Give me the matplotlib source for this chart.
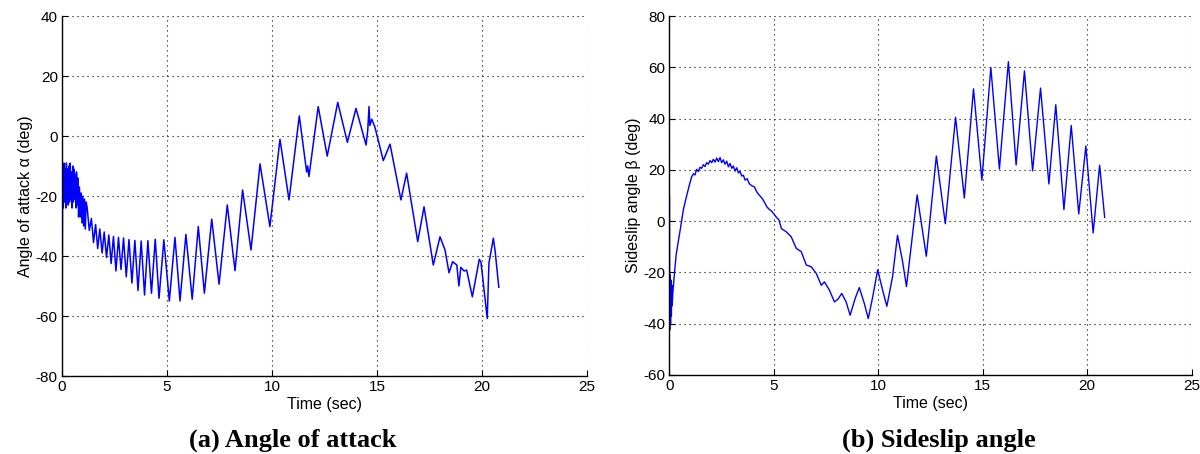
import matplotlib
matplotlib.use("Agg")
import matplotlib.pyplot as plt

# ---- Angle of attack alpha (deg) vs time (s): turning points of the trace ----
alpha_t = [0.00, 0.01, 0.03, 0.06, 0.09, 0.12, 0.15, 0.18, 0.21, 0.24, 0.27, 0.30,
           0.33, 0.36, 0.39, 0.42, 0.45, 0.48, 0.51, 0.54, 0.57, 0.60, 0.63, 0.66,
           0.69, 0.72, 0.75, 0.79, 0.83, 0.87, 0.91, 0.95, 0.99, 1.03, 1.07, 1.11,
           1.15, 1.20, 1.30, 1.40, 1.50, 1.60, 1.70, 1.80, 1.91, 2.01, 2.12, 2.23,
           2.34, 2.45, 2.57, 2.69, 2.81, 2.93, 3.06, 3.19, 3.33, 3.47, 3.62, 3.77,
           3.93, 4.09, 4.26, 4.44, 4.62, 4.85, 5.11, 5.38, 5.62, 5.90, 6.20, 6.49,
           6.78, 7.13, 7.48, 7.87, 8.24, 8.60, 9.00, 9.43, 9.90, 10.38, 10.81, 11.30,
           11.65, 11.70, 11.76, 12.20, 12.63, 13.13, 13.59, 14.00, 14.48, 14.56, 14.62,
           14.66, 14.75, 14.90, 15.30, 15.62, 16.14, 16.41, 16.94, 17.24, 17.68, 18.00,
           18.24, 18.43, 18.60, 18.80, 18.90, 18.99, 19.15, 19.27, 19.54, 19.87, 19.95,
           20.25, 20.33, 20.54, 20.62, 20.80]
alpha_v = [21.0, -54.0, -12.0, -24.0, -9.0, -22.0, -11.0, -24.0, -9.0, -21.0, -11.0, -23.0,
           -10.0, -22.0, -9.0, -21.0, -12.0, -24.0, -10.0, -22.0, -11.0, -21.0, -13.0, -24.0,
           -12.0, -23.0, -14.0, -27.0, -17.0, -27.0, -19.0, -29.0, -20.0, -30.0, -21.0, -31.0,
           -22.0, -24.0, -31.5, -27.5, -35.5, -29.5, -37.5, -31.0, -39.0, -32.0, -40.5, -33.0,
           -42.5, -33.5, -45.0, -33.8, -44.5, -34.0, -46.9, -34.5, -49.0, -34.8, -51.5, -35.0,
           -53.0, -34.9, -52.4, -34.4, -54.1, -34.6, -55.0, -33.8, -55.0, -32.8, -54.4, -30.2,
           -52.4, -27.7, -49.4, -23.0, -44.9, -18.0, -38.0, -9.3, -30.2, -1.1, -21.3, 6.7,
           -12.0, -10.0, -13.5, 9.8, -6.7, 11.2, -2.1, 9.2, -3.0, 2.0, 9.8,
           3.5, 5.6, 3.0, -8.2, -2.7, -21.3, -12.4, -35.2, -23.6, -43.0, -33.6,
           -38.0, -45.6, -41.9, -43.0, -50.0, -43.8, -45.0, -44.7, -53.6, -41.1, -42.0,
           -60.8, -42.4, -34.1, -38.0, -50.4]

# ---- Sideslip angle beta (deg) vs time (s): turning points of the trace ----
beta_t = [0.00, 0.01, 0.03, 0.05, 0.07, 0.09, 0.11, 0.13, 0.16, 0.24, 0.32, 0.40,
          0.48, 0.56, 0.66, 0.75, 0.85, 0.95, 1.06, 1.15, 1.22, 1.30, 1.38, 1.46,
          1.54, 1.62, 1.70, 1.78, 1.86, 1.94, 2.02, 2.10, 2.18, 2.26, 2.34, 2.42,
          2.50, 2.58, 2.66, 2.74, 2.82, 2.90, 2.98, 3.06, 3.14, 3.22, 3.30, 3.38,
          3.46, 3.54, 3.62, 3.72, 3.82, 3.94, 4.06, 4.16, 4.26, 4.36, 4.46, 4.56,
          4.66, 4.76, 4.88, 4.98, 5.12, 5.24, 5.36, 5.60, 5.83, 6.07, 6.31, 6.55,
          6.79, 7.03, 7.27, 7.42, 7.66, 7.90, 8.06, 8.25, 8.46, 8.65, 8.89, 9.09,
          9.33, 9.52, 9.73, 9.97, 10.21, 10.41, 10.68, 10.92, 11.16, 11.35, 11.86, 12.30,
          12.78, 13.21, 13.70, 14.12, 14.56, 14.96, 15.39, 15.80, 16.23, 16.60, 17.00,
          17.39, 17.77, 18.17, 18.50, 18.89, 19.24, 19.60, 19.94, 20.29, 20.60, 20.84]
beta_v = [9.5, -42.5, -21.0, -40.0, -23.0, -37.0, -25.0, -33.0, -28.0, -20.0, -13.0, -9.0,
          -5.0, -1.0, 4.3, 7.5, 10.8, 14.0, 17.3, 18.5, 18.0, 20.2, 19.4, 21.0,
          20.6, 22.0, 21.3, 22.8, 22.2, 23.6, 22.8, 24.1, 23.0, 24.6, 23.2, 24.8,
          22.8, 23.9, 22.2, 23.4, 21.2, 22.5, 20.6, 21.5, 19.5, 20.8, 18.8, 19.4,
          17.6, 17.9, 16.0, 16.6, 14.6, 13.8, 13.4, 11.7, 10.5, 9.6, 8.6, 7.2,
          5.6, 4.7, 4.0, 3.0, 1.5, 0.5, -2.9, -4.2, -6.1, -10.6, -11.9, -17.1,
          -17.8, -20.4, -25.0, -23.7, -26.9, -31.5, -30.5, -28.2, -31.5, -36.7, -30.2, -25.9,
          -32.1, -38.0, -29.6, -19.0, -27.0, -33.2, -21.8, -5.5, -15.6, -25.5, 10.2, -13.7,
          25.4, -1.0, 40.5, 9.0, 51.6, 16.0, 59.9, 20.3, 62.2, 21.9, 58.6,
          19.6, 51.9, 14.5, 45.4, 4.5, 37.3, 2.8, 29.3, -4.6, 21.8, 1.5]

x_ticks = [0, 5, 10, 15, 20, 25]
alpha_ticks = [-80, -60, -40, -20, 0, 20, 40]
beta_ticks = [-60, -40, -20, 0, 20, 40, 60, 80]

plt.rcParams["font.family"] = ["Liberation Sans", "DejaVu Sans"]
plt.rcParams["axes.unicode_minus"] = False

W, H = 1200, 454
fig = plt.figure(figsize=(W / 100, H / 100), dpi=100)


def box(x0, x1, ytop, ybot):
    return [x0 / W, 1 - ybot / H, (x1 - x0) / W, (ybot - ytop) / H]


def style(ax, yticks, ylabel):
    ax.set_xlim(0, 25)
    ax.set_ylim(yticks[0], yticks[-1])
    ax.set_xticks(x_ticks)
    ax.set_yticks(yticks)
    ax.tick_params(direction="in", length=4, width=0.8, labelsize=11,
                   colors="black", pad=3)
    ax.grid(True, color="black", linestyle=(0, (1, 3.5)), linewidth=0.8)
    for side in ("top", "right"):
        ax.spines[side].set_visible(False)
    for side in ("left", "bottom"):
        ax.spines[side].set_linewidth(1.0)
    ax.set_xlabel("Time (sec)", fontsize=11.5, labelpad=2)
    ax.set_ylabel(ylabel, fontsize=11.5, labelpad=2)


ax1 = fig.add_axes(box(62, 587, 16, 376))
ax1.plot(alpha_t, alpha_v, color=(0, 0, 1), linewidth=1.1)
style(ax1, alpha_ticks, "Angle of attack \u03b1 (deg)")

ax2 = fig.add_axes(box(669.5, 1191.5, 16, 375))
ax2.plot(beta_t, beta_v, color=(0, 0, 1), linewidth=1.0)
style(ax2, beta_ticks, "Sideslip angle \u03b2 (deg)")

cap = dict(ha="center", va="center", fontsize=19, fontweight="bold",
           family=["Liberation Serif", "DejaVu Serif"])
fig.text(293 / W, 1 - 440 / H, "(a) Angle of attack", **cap)
fig.text(939 / W, 1 - 440 / H, "(b) Sideslip angle", **cap)

fig.savefig("out.png", dpi=100)
